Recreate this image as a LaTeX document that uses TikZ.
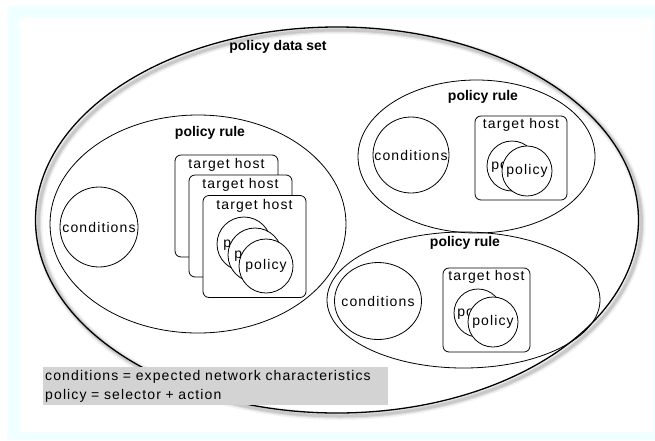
\documentclass[tikz,border=0pt]{standalone}
\usepackage{fontspec}
\setmainfont{Liberation Sans}
\newfontfamily\lblfont[LetterSpace=8]{Liberation Sans}
\usetikzlibrary{shapes.geometric}
\definecolor{framebg}{RGB}{240,255,255}
\definecolor{keygray}{RGB}{211,211,211}
\tikzset{
  setline/.style={draw, ellipse, line width=1.3pt, inner sep=0pt},
  rule/.style={draw, ellipse, line width=0.8pt, inner sep=0pt},
  cond/.style={draw, ellipse, fill=white, line width=0.8pt, inner sep=0pt},
  host/.style={draw, rounded corners=6pt, fill=white, line width=0.8pt, inner sep=0pt},
  pol/.style={draw, circle, fill=white, line width=0.8pt, inner sep=0pt, minimum size=#1},
  head/.style={font=\bfseries\fontsize{14}{16}\selectfont, inner sep=0pt},
  txt/.style={font=\lblfont\fontsize{14}{16}\selectfont, inner sep=0pt}
}

\begin{document}
\begin{tikzpicture}[x=1pt, y=-1pt]
\useasboundingbox (0,0) rectangle (655,440);
%frame
\fill[framebg] (7,6) rectangle (655,440);
\fill[white] (19,18) rectangle (653,432);

%shadow of the set
\foreach \w/\o in {8/0.05, 5/0.07, 3/0.1}
  \draw[line width=\w pt, black, opacity=\o] (340,223) ellipse [x radius=301.5, y radius=193];
\node[setline, minimum width=603pt, minimum height=386pt] (set) at (337,220) {};
\node[head] (settitle) at (278,47) {policy data set};

%left rule
\node[rule, minimum width=296pt, minimum height=218pt] (ruleA) at (198,224) {};
\node[head] (ruleAtitle) at (210,133) {policy rule};
\node[cond, minimum width=78pt, minimum height=80pt] (condA) at (99,227) {};
\node[txt] (condAt) at (condA) {conditions};
\node[host, minimum width=103pt, minimum height=102pt] (hostA1) at (226.5,206) {};
\node[txt, anchor=north] (hostA1t) at ([yshift=-4pt]hostA1.north) {target host};
\node[host, minimum width=103pt, minimum height=102pt] (hostA2) at (240.5,226) {};
\node[txt, anchor=north] (hostA2t) at ([yshift=-4pt]hostA2.north) {target host};
\node[host, minimum width=103pt, minimum height=102pt] (hostA3) at (254.5,246.5) {};
\node[txt, anchor=north] (hostA3t) at ([yshift=-4pt]hostA3.north) {target host};
\node[pol=54pt] (polA1) at (244,244) {};
\node[txt] (polA1t) at (polA1) {policy};
\node[pol=54pt] (polA2) at (255,255) {};
\node[txt] (polA2t) at (polA2) {policy};
\node[pol=54pt] (polA3) at (266,266) {};
\node[txt] (polA3t) at (polA3) {policy};

%top right rule
\node[rule, minimum width=237pt, minimum height=153pt] (ruleB) at (476.5,156.5) {};
\node[head] (ruleBtitle) at (483,97) {policy rule};
\node[cond, minimum width=76pt, minimum height=76pt] (condB) at (411,155) {};
\node[txt] (condBt) at (condB) {conditions};
\node[host, minimum width=92pt, minimum height=84pt] (hostB) at (521,158) {};
\node[txt, anchor=north] (hostBt) at ([yshift=-3pt]hostB.north) {target host};
\node[pol=50pt] (polB1) at (512,166) {};
\node[txt] (polB1t) at (polB1) {policy};
\node[pol=50pt] (polB2) at (527,171) {};
\node[txt] (polB2t) at (polB2) {policy};

%bottom right rule
\node[rule, minimum width=273pt, minimum height=136pt] (ruleC) at (463.5,300) {};
\node[head] (ruleCtitle) at (465,243) {policy rule};
\node[cond, minimum width=87pt, minimum height=77pt] (condC) at (378,301) {};
\node[txt] (condCt) at (condC) {conditions};
\node[host, minimum width=87pt, minimum height=84pt] (hostC) at (486.5,310) {};
\node[txt, anchor=north] (hostCt) at ([yshift=-3pt]hostC.north) {target host};
\node[pol=48pt] (polC1) at (478,313) {};
\node[txt] (polC1t) at (polC1) {policy};
\node[pol=50pt] (polC2) at (493,322) {};
\node[txt] (polC2t) at (polC2) {policy};

%key
\node[fill=keygray, anchor=north west, inner sep=2pt, text width=341pt, minimum height=38pt,
  align=left, font=\lblfont\fontsize{14}{19}\selectfont] (key) at (43,367)
  {conditions = expected network characteristics\\policy = selector + action};
\end{tikzpicture}
\end{document}
